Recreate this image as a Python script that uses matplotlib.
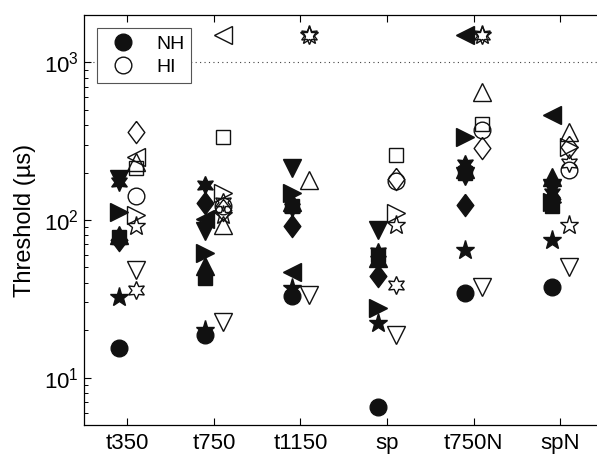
import numpy as np
import matplotlib
matplotlib.use("Agg")
import matplotlib.pyplot as plt
from matplotlib.lines import Line2D

plt.rcParams['font.family'] = ['Liberation Sans', 'DejaVu Sans']

conditions = ["t350", "t750", "t1150", "sp", "t750N", "spN"]
nan = np.nan

# one value per listener symbol, per condition (us); 1500 = could not do the task
nh_o = [15.3, 18.7, 32.7, 6.5, 34.3, 37.8]
nh_s = [78, 43, 123, 60, 200, 122]
nh_d = [75, 128, 92, 44, 124, 135]
nh_up = [80, 51, 130, 57, 210, 188]
nh_down = [182, 85, 213, 87, 190, 160]
nh_left = [nan, 102, 47, nan, 1500, 464]
nh_right = [113, 62, 148, 27.5, 338, 130]
nh_p = [32.6, 20, 37, 22.1, 64.6, 74.7]
nh_h = [175, 167, 120, 63, 228, 148]

hi_o = [141, 122, nan, 178, 373, 208]
hi_s = [214, 335, nan, 259, 406, nan]
hi_d = [364, 115, nan, 182, 285, 290]
hi_up = [235, 93, 180, nan, 652, 364]
hi_down = [48, 22.6, 33.4, 18.7, 37.8, 50.6]
hi_left = [252, 1500, nan, nan, nan, nan]
hi_right = [108, 148, nan, 111, nan, 292]
hi_p = [91, 108, 1500, 93, 1500, 93]
hi_h = [36, 131, 1500, 38.7, 1500, 229]

diamond = [(0, 1), (0.75, 0), (0, -1), (-0.75, 0), (0, 1)]
hexagram = (6, 1, 0)
markers = [("o", 12), ("s", 9.5), (diamond, 16), ("^", 12.5), ("v", 12.5),
           ("<", 12.5), (">", 12.5), ("*", 14), (hexagram, 13)]

nh = [nh_o, nh_s, nh_d, nh_up, nh_down, nh_left, nh_right, nh_p, nh_h]
hi = [hi_o, hi_s, hi_d, hi_up, hi_down, hi_left, hi_right, hi_p, hi_h]

fig = plt.figure(figsize=(5.97, 4.57), dpi=100)
ax = fig.add_axes([84 / 597, 32 / 457, 519.6 / 597, 410 / 457])

x = np.arange(1, len(conditions) + 1)
ax.axhline(1000, ls=(0, (1, 3)), color="#444444", lw=0.8, zorder=0)

for (m, ms), vals in zip(markers, nh):
    ax.plot(x - 0.1, vals, ls="none", marker=m, ms=ms, mfc="#111111",
            mec="#111111", mew=1)
for (m, ms), vals in zip(markers, hi):
    ax.plot(x + 0.1, vals, ls="none", marker=m, ms=ms, mfc="none",
            mec="#111111", mew=1)

ax.set_yscale("log")
ax.set_ylim(5, 2000)
ax.set_xlim(0.5, 6.5)
ax.set_xticks(x)
ax.set_xticklabels(conditions)
ax.set_ylabel("Threshold (µs)", fontsize=17, labelpad=6)
ax.tick_params(which="both", direction="in", top=True, right=False, labelsize=16)
ax.tick_params(which="major", length=5, width=0.8)
ax.tick_params(which="minor", length=3, width=0.7)
ax.tick_params(axis="x", pad=6)
for s in ax.spines.values():
    s.set_linewidth(0.9)

handles = [Line2D([], [], ls="none", marker="o", ms=12, mfc="#111111", mec="#111111"),
           Line2D([], [], ls="none", marker="o", ms=12, mfc="none", mec="#111111")]
leg = ax.legend(handles, ["NH", "HI"], loc="upper left",
                bbox_to_anchor=(0.025, 0.968), borderaxespad=0, fontsize=14,
                fancybox=False, framealpha=1, edgecolor="#555555",
                handletextpad=0.7, borderpad=0.35, labelspacing=0.3)
leg.get_frame().set_linewidth(0.8)

fig.savefig("out.png", dpi=100)
